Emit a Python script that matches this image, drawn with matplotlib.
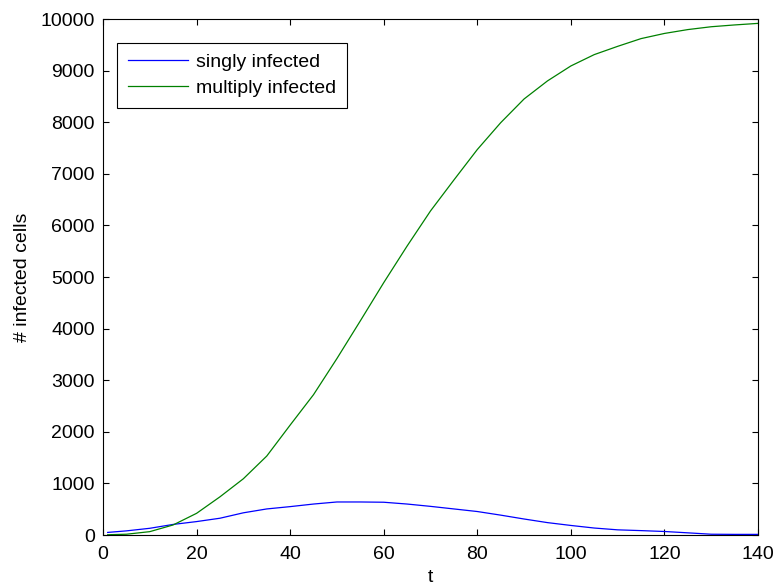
import matplotlib
matplotlib.use("Agg")
import matplotlib.pyplot as plt

plt.rcParams["font.family"] = ["Liberation Sans", "DejaVu Sans"]
plt.rcParams["font.size"] = 14

# Simulation output, sampled every 5 time units
t = [1, 5, 10, 15, 20, 25, 30, 35, 40, 45, 50, 55, 60, 65, 70,
     75, 80, 85, 90, 95, 100, 105, 110, 115, 120, 125, 130, 135, 140]
singly = [50, 80, 130, 205, 260, 325, 430, 505, 550, 600, 640, 640, 635, 600, 555,
          505, 455, 385, 310, 240, 185, 135, 100, 85, 68, 42, 15, 12, 12]
multiply = [5, 15, 65, 195, 420, 740, 1090, 1530, 2130, 2720, 3420, 4150, 4890, 5600, 6280,
            6880, 7470, 7990, 8450, 8800, 9090, 9310, 9470, 9620, 9720, 9795, 9850, 9885, 9915]

x_ticks = [0, 20, 40, 60, 80, 100, 120, 140]
y_ticks = [0, 1000, 2000, 3000, 4000, 5000, 6000, 7000, 8000, 9000, 10000]

fig = plt.figure(figsize=(7.76, 5.88), dpi=100)
ax = fig.add_axes([103 / 776, 53 / 588, 655 / 776, 516 / 588])

ax.plot(t, singly, color=(0, 0, 1), linewidth=0.9, label="singly infected")
ax.plot(t, multiply, color=(0, 0.5, 0), linewidth=0.9, label="multiply infected")

ax.set_xlim(0, 140)
ax.set_ylim(0, 10000)
ax.set_xticks(x_ticks)
ax.set_yticks(y_ticks)
ax.tick_params(direction="in", top=True, right=True, length=4, width=0.8)
ax.tick_params(axis="x", pad=8)
ax.tick_params(axis="y", pad=6)
for s in ax.spines.values():
    s.set_linewidth(0.8)

ax.set_xlabel("t", labelpad=4)
ax.set_ylabel("# infected cells", labelpad=7)

leg = ax.legend(loc="upper left", bbox_to_anchor=(14 / 655, 492 / 516), borderaxespad=0,
                fancybox=False, framealpha=1, edgecolor="black",
                handlelength=3.1, handletextpad=0.4, borderpad=0.55, labelspacing=0.42)
leg.get_frame().set_linewidth(0.8)

fig.savefig("out.png", dpi=100)
